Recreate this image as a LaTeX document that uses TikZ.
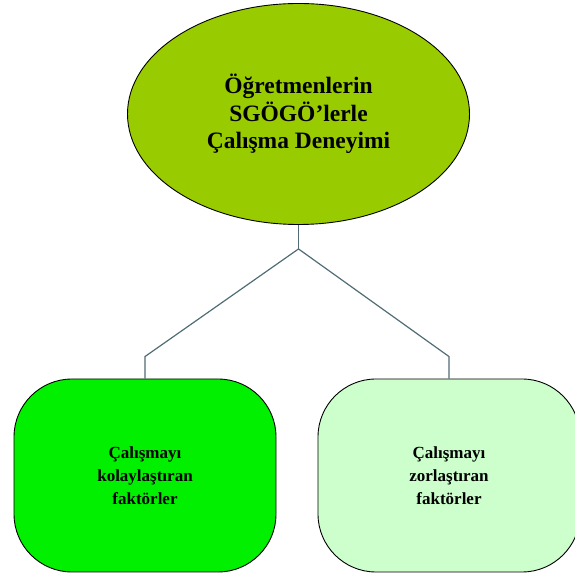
\documentclass[tikz,border=0pt]{standalone}
\usepackage{fontspec}
\setmainfont{Liberation Serif}
\usepackage{xcolor}
\definecolor{olivegreen}{RGB}{153,204,0}
\definecolor{brightgreen}{RGB}{0,240,0}
\definecolor{palegreen}{RGB}{204,255,204}
\definecolor{slateline}{RGB}{80,108,116}
\usepackage{tikz}
\usetikzlibrary{shapes.geometric, positioning, calc}
\tikzset{
  topnode/.style={
    ellipse, draw=black, fill=#1, line width=0.9pt,
    minimum width=342pt, minimum height=221pt,
    align=center, font=\fontsize{23.5}{27.5}\selectfont\bfseries
  },
  factorbox/.style={
    rectangle, rounded corners=58pt,
    draw=black, fill=#1, line width=0.9pt,
    minimum width=262pt, minimum height=193pt,
    align=center, font=\fontsize{17}{23}\selectfont\bfseries
  },
  link/.style={line width=1.2pt, color=slateline},
}

\begin{document}
\begin{tikzpicture}[x=1pt, y=1pt]
  \useasboundingbox (0,0) rectangle (574,578);

  % --- Nodo superior ---
  \node (experience) [topnode=olivegreen] at (298.5,464)
        {Öğretmenlerin\\SGÖGÖ’lerle\\Çalışma Deneyimi};

  % --- Cajas de factores ---
  \node (easing) [factorbox=brightgreen] at (145,102.5)
        {Çalışmayı\\kolaylaştıran\\faktörler};
  \node (hardening) [factorbox=palegreen] at (449,102.5)
        {Çalışmayı\\zorlaştıran\\faktörler};

  % --- Conectores ---
  \coordinate (fork) at ($(experience.south)+(0,-24)$);
  \draw[link] (experience.south) -- (fork);
  \draw[link] (fork) -- ([yshift=22pt]easing.north) -- (easing.north);
  \draw[link] (fork) -- ([yshift=22pt]hardening.north) -- (hardening.north);

\end{tikzpicture}
\end{document}
